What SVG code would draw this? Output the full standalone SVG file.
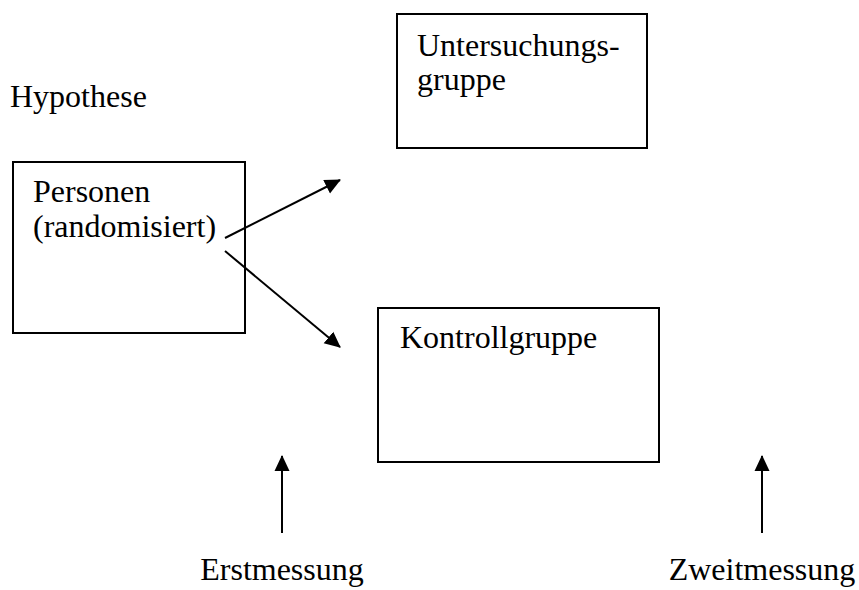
<svg xmlns="http://www.w3.org/2000/svg" width="859" height="590" viewBox="0 0 859 590">
<defs>
<marker id="ah" markerUnits="userSpaceOnUse" markerWidth="16" markerHeight="16" viewBox="0 0 16 16" refX="15" refY="8" orient="auto">
<path d="M0,0.5 L16,8 L0,15.5 Z" fill="#000"/>
</marker>
</defs>
<style>
text{font-family:"Liberation Serif","Times New Roman",serif;font-size:32px;fill:#000}
.box{fill:#fff;stroke:#000;stroke-width:2}
.c line{stroke:#000;stroke-width:2;marker-end:url(#ah)}
</style>
<rect width="859" height="590" fill="#fff"/>
<g id="hypothese"><text x="10" y="107">Hypothese</text></g>
<g id="personen">
<rect class="box" x="13" y="162" width="232" height="171"/>
<text x="33" y="202">Personen</text>
<text x="33" y="237">(randomisiert)</text>
</g>
<g id="untersuchungsgruppe">
<rect class="box" x="397" y="14" width="250" height="134"/>
<text x="417" y="56">Untersuchungs-</text>
<text x="417" y="90">gruppe</text>
</g>
<g id="kontrollgruppe">
<rect class="box" x="378" y="308" width="281" height="154"/>
<text x="400" y="348">Kontrollgruppe</text>
</g>
<g id="erstmessung"><text x="282" y="580" text-anchor="middle">Erstmessung</text></g>
<g id="zweitmessung"><text x="762" y="580" text-anchor="middle">Zweitmessung</text></g>
<g class="c" id="connectors">
<line x1="225" y1="238" x2="340" y2="180"/>
<line x1="225" y1="251" x2="340" y2="347"/>
<line x1="282" y1="533" x2="282" y2="456"/>
<line x1="762" y1="533" x2="762" y2="456"/>
</g>
</svg>
